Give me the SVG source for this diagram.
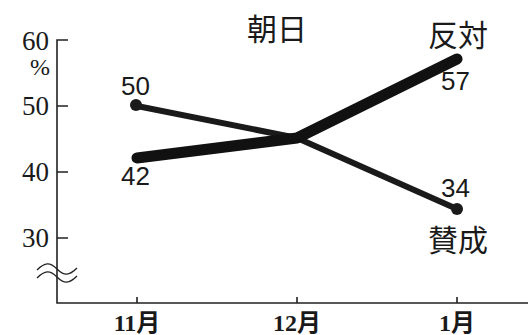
<svg xmlns="http://www.w3.org/2000/svg" width="528" height="335" viewBox="0 0 528 335">
<style>
.ax{stroke:#222;stroke-width:1.6;fill:none}
.yl{font-family:"Liberation Serif","DejaVu Serif",serif;font-size:27px;fill:#1a1a1a;text-anchor:end}
.ml{font-family:"Liberation Serif","Noto Sans CJK JP",serif;font-size:24px;font-weight:bold;fill:#1a1a1a;text-anchor:middle}
.dl{font-family:"Liberation Sans","Noto Sans",sans-serif;font-size:26px;fill:#1a1a1a}
.jp{font-family:"Noto Sans CJK JP",sans-serif;font-size:30px;fill:#1a1a1a}
.thin{stroke:#1a1a1a;stroke-width:6;fill:none;stroke-linecap:round;stroke-linejoin:round}
.thick{stroke:#111;stroke-width:11;fill:none;stroke-linecap:round;stroke-linejoin:round}
.wave{stroke:#222;stroke-width:1.3;fill:none}
</style>
<rect width="528" height="335" fill="#fff"/>
<g id="axes">
<path class="ax" d="M68,40 H57 V303 H528"/>
<path class="ax" d="M57,106 H68 M57,172 H68 M57,238 H68"/>
<path class="ax" d="M137,303 V297 M297,303 V297 M457,303 V297"/>
<path class="wave" d="M37,270 C45,262 50,262 57,269 S69,276 77,268"/>
<path class="wave" d="M37,278 C45,270 50,270 57,277 S69,284 77,276"/>
</g>
<g id="y-labels">
<text class="yl" x="49" y="49.5">60</text>
<text class="yl" x="50" y="75" style="font-size:24px">%</text>
<text class="yl" x="49" y="114.5">50</text>
<text class="yl" x="49" y="181">40</text>
<text class="yl" x="49" y="247">30</text>
</g>
<g id="x-labels">
<text class="ml" x="137" y="331">11月</text>
<text class="ml" x="297" y="331">12月</text>
<text class="ml" x="457" y="331">1月</text>
</g>
<g id="connectors">
<polyline class="thin" points="137,106 297,138 457,209"/>
<polyline class="thick" points="137,158 297,138 457,59"/>
<circle cx="136" cy="105" r="6" fill="#1a1a1a"/>
<circle cx="457" cy="209" r="6" fill="#1a1a1a"/>
</g>
<g id="title"><text class="jp" x="247" y="40">朝日</text></g>
<g id="series-hantai">
<text class="jp" x="428" y="46">反対</text>
<text class="dl" x="441" y="90">57</text>
<text class="dl" x="121" y="185">42</text>
</g>
<g id="series-sansei">
<text class="dl" x="121" y="95">50</text>
<text class="dl" x="441" y="197">34</text>
<text class="jp" x="428" y="251">賛成</text>
</g>
</svg>
